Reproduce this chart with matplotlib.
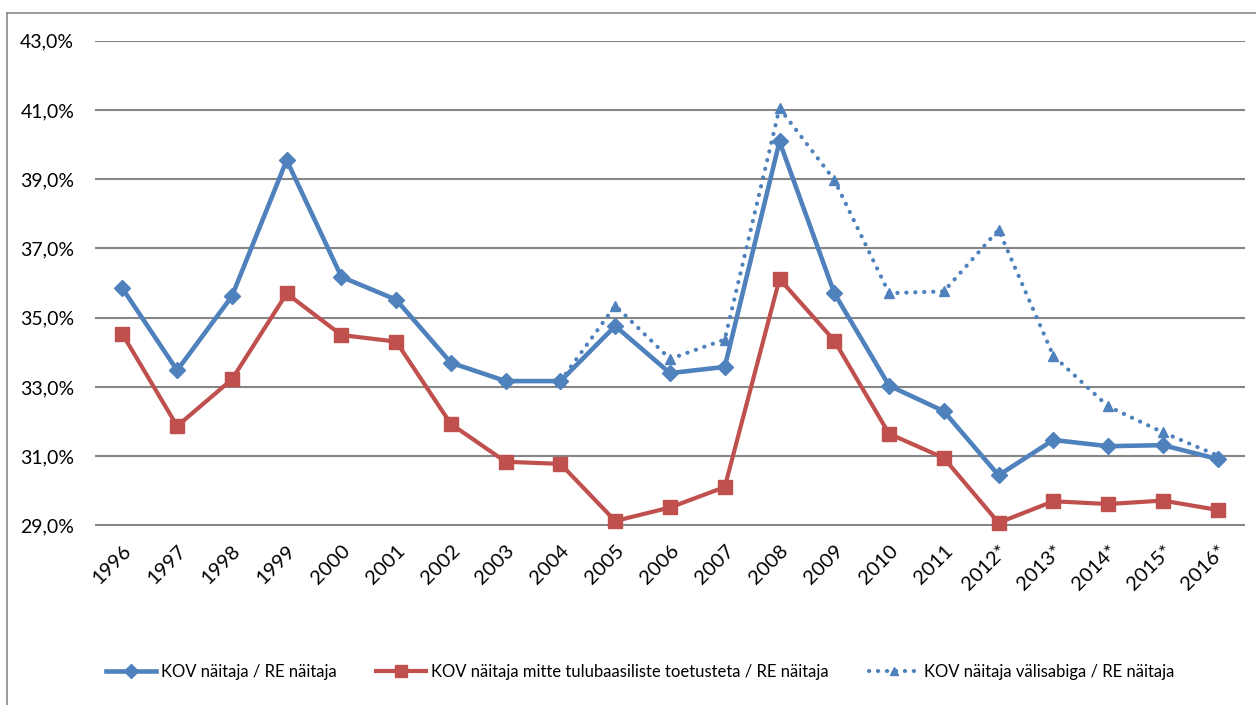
import matplotlib
matplotlib.use("Agg")
import matplotlib.pyplot as plt
import numpy as np
from matplotlib.lines import Line2D

plt.rcParams['font.family'] = ['Lato', 'DejaVu Sans']

years = ["1996", "1997", "1998", "1999", "2000", "2001", "2002", "2003", "2004",
         "2005", "2006", "2007", "2008", "2009", "2010", "2011", "2012*", "2013*",
         "2014*", "2015*", "2016*"]

kov_re = [35.85, 33.48, 35.62, 39.55, 36.18, 35.52, 33.70, 33.17, 33.17,
          34.76, 33.40, 33.58, 40.09, 35.71, 33.04, 32.30, 30.45, 31.47,
          31.29, 31.32, 30.92]

kov_mitte = [34.53, 31.87, 33.22, 35.70, 34.50, 34.31, 31.93, 30.84, 30.78,
             29.13, 29.52, 30.11, 36.12, 34.34, 31.65, 30.95, 29.08, 29.70,
             29.62, 29.72, 29.45]

kov_vahe = [np.nan, np.nan, np.nan, np.nan, np.nan, np.nan, np.nan, np.nan, 33.17,
            35.35, 33.81, 34.37, 41.05, 38.98, 35.71, 35.76, 37.54, 33.90,
            32.44, 31.69, 31.02]

labels = ["KOV näitaja / RE näitaja",
          "KOV näitaja mitte tulubaasiliste toetusteta / RE näitaja",
          "KOV näitaja välisabiga / RE näitaja"]

yticks = [29, 31, 33, 35, 37, 39, 41, 43]

blue = "#4F81BD"
red = "#C0504D"
grid = "#868686"

W, H = 1256, 705
fig = plt.figure(figsize=(W / 100, H / 100), dpi=100)
ax = fig.add_axes([95 / W, 1 - 525.5 / H, (1245 - 95) / W, (525.5 - 40.7) / H])

x = np.arange(len(years))
dots = (0, (0.05, 2.1))

ax.plot(x, kov_vahe, color=blue, lw=3.0, linestyle=dots,
        dash_capstyle='round', marker='^', ms=6.5, mec=blue, mfc=blue,
        clip_on=False, zorder=3, label=labels[2])
ax.plot(x, kov_mitte, color=red, lw=3.0, marker='s', ms=10, mec=red, mfc=red,
        clip_on=False, zorder=4, label=labels[1])
ax.plot(x, kov_re, color=blue, lw=3.3, marker='D', ms=7.8, mec=blue, mfc=blue,
        clip_on=False, zorder=5, label=labels[0])

ax.set_xlim(-0.5, len(years) - 0.5)
ax.set_ylim(29, 43)
ax.set_yticks(yticks)
ax.set_yticklabels([f"{v:.1f}%".replace(".", ",") for v in yticks], fontsize=14)
ax.yaxis.grid(True, color=grid, lw=1.5)
ax.set_axisbelow(True)
for s in ax.spines.values():
    s.set_visible(False)
ax.tick_params(axis='y', length=0, pad=15)
ax.tick_params(axis='x', length=0, pad=12)
ax.set_xticks(x)
ax.set_xticklabels(years, rotation=45, ha='right', va='top',
                   rotation_mode='anchor', fontsize=14.5)

handles = [
    Line2D([], [], color=blue, lw=3.3, marker='D', ms=7, label=labels[0]),
    Line2D([], [], color=red, lw=3.0, marker='s', ms=9, label=labels[1]),
    Line2D([], [], color=blue, lw=3.0, linestyle=dots, dash_capstyle='round',
           marker='^', ms=6, label=labels[2]),
]
fig.legend(handles=handles, loc='center', bbox_to_anchor=(640 / W, 1 - 672 / H),
           ncol=3, frameon=False, fontsize=12, handlelength=3.0,
           handletextpad=0.3, columnspacing=2.4)

# outer chart border
fig.add_artist(Line2D([7 / W, 1.0], [1 - 13 / H, 1 - 13 / H], color="#898989",
                      lw=1.2, transform=fig.transFigure))
fig.add_artist(Line2D([7 / W, 7 / W], [1 - 13 / H, 0.0], color="#898989",
                      lw=1.2, transform=fig.transFigure))

fig.savefig("out.png", dpi=100)
